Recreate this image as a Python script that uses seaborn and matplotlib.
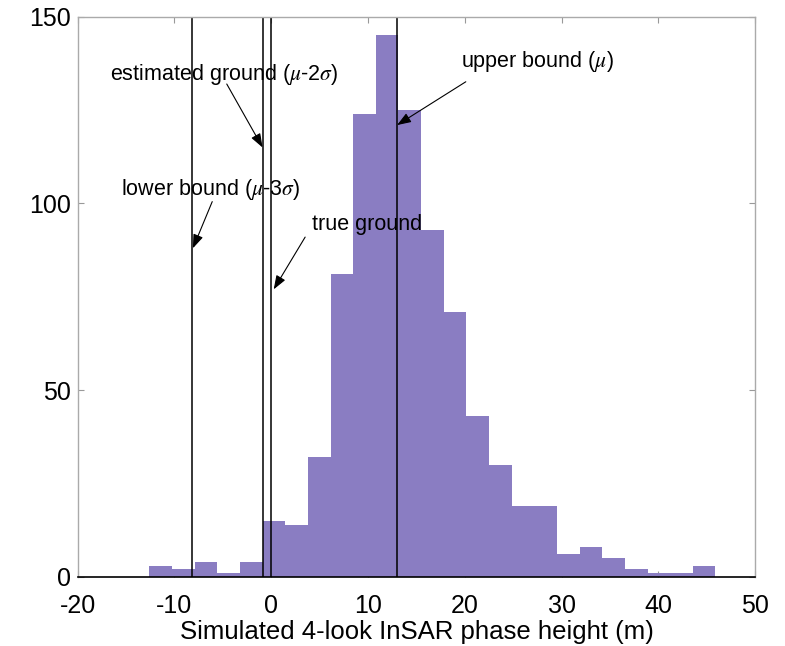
import numpy as np
import pandas as pd
import seaborn as sns
import matplotlib.pyplot as plt

# histogram of simulated phase heights (25 equal bins between min and max)
hist_min = -12.6
hist_max = 45.9
n_bins = 25
counts = [3, 2, 4, 1, 4, 15, 14, 32, 81, 124, 145, 125, 93,
          71, 43, 30, 19, 19, 6, 8, 5, 2, 1, 1, 3]

# vertical reference lines (m)
lower_bound = -8.2     # mu - 3 sigma
est_ground = -0.9      # mu - 2 sigma
true_ground = 0.0
upper_bound = 13.0     # mu

edges = np.linspace(hist_min, hist_max, n_bins + 1)
centers = (edges[:-1] + edges[1:]) / 2
df = pd.DataFrame({'h': centers, 'n': counts})

sns.set_style("white")
plt.rcParams['font.family'] = ['Liberation Sans', 'DejaVu Sans']
plt.rcParams['mathtext.fontset'] = 'stix'
plt.rcParams['axes.unicode_minus'] = False
plt.rcParams['text.color'] = 'black'
plt.rcParams['xtick.color'] = 'black'
plt.rcParams['ytick.color'] = 'black'
plt.rcParams['axes.labelcolor'] = 'black'

fig = plt.figure(figsize=(7.85, 6.46), dpi=100)
ax = fig.add_axes([0.099, 0.107, 0.863, 0.867])

sns.histplot(data=df, x='h', weights='n', bins=list(edges), ax=ax,
             color='#8a7dc2', alpha=1, element='bars', linewidth=0)

for xv in [lower_bound, est_ground, true_ground, upper_bound]:
    ax.axvline(xv, color='black', lw=1.1)

ax.set_xlim(-20, 50)
ax.set_ylim(0, 150)
ax.set_xticks(range(-20, 51, 10))
ax.set_yticks([0, 50, 100, 150])
ax.set_xlabel('Simulated 4-look InSAR phase height (m)', fontsize=18.5, labelpad=2)
ax.set_ylabel('')
ax.tick_params(labelsize=18, direction='in', length=4,
               top=True, right=True, bottom=True, left=True)
ax.tick_params(axis='x', pad=12)
ax.tick_params(axis='y', pad=5)
for t in ax.xaxis.get_ticklines() + ax.yaxis.get_ticklines():
    t.set_markeredgecolor('#999999')

for side in ['top', 'right', 'left']:
    ax.spines[side].set_color('#aaaaaa')
    ax.spines[side].set_linewidth(1.0)
ax.spines['bottom'].set_color('black')
ax.spines['bottom'].set_linewidth(1.2)

arrow = dict(arrowstyle='-|>,head_length=0.6,head_width=0.22', color='black',
             lw=0.8, mutation_scale=14, shrinkA=0, shrinkB=0)
fs = 15.5

# labels (left edge, vertical centre) and arrows (tail -> tip)
ax.text(-16.65, 134.5, r'estimated ground ($\mu$-2$\sigma$)', fontsize=fs, va='center')
ax.annotate('', xy=(est_ground, 115), xytext=(-4.6, 132), arrowprops=arrow)

ax.text(-15.55, 103.7, r'lower bound ($\mu$-3$\sigma$)', fontsize=fs, va='center')
ax.annotate('', xy=(-8.1, 88), xytext=(-6.1, 100.5), arrowprops=arrow)

ax.text(4.2, 94.3, 'true ground', fontsize=fs, va='center')
ax.annotate('', xy=(0.25, 77), xytext=(3.5, 91), arrowprops=arrow)

ax.text(19.65, 138, r'upper bound ($\mu$)', fontsize=fs, va='center')
ax.annotate('', xy=(upper_bound, 121), xytext=(20.1, 132.6), arrowprops=arrow)

fig.savefig('out.png', dpi=100)
